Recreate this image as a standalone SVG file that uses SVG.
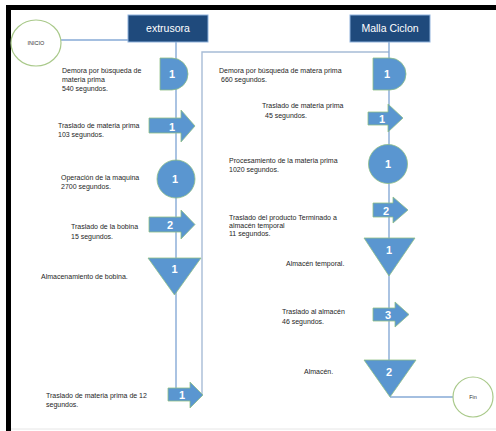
<svg xmlns="http://www.w3.org/2000/svg" width="496" height="431" viewBox="0 0 496 431">
<defs>
<style>
.lbl{font-family:"Liberation Sans",Arial,sans-serif;font-size:7px;fill:#1e1e1e;}
.hdr{font-family:"Liberation Sans",Arial,sans-serif;font-size:10.5px;fill:#ffffff;text-anchor:middle;}
.num{font-family:"Liberation Sans",Arial,sans-serif;font-size:11px;font-weight:bold;fill:#ffffff;text-anchor:middle;}
.tiny{font-family:"Liberation Sans",Arial,sans-serif;font-size:5.5px;fill:#333;text-anchor:middle;}
.shp{fill:#5a96d0;stroke:#8fbf86;stroke-width:0.8;}
.box{fill:#1f4a7c;stroke:#8fb2dc;stroke-width:1;}
.term{fill:#ffffff;stroke:#a9c98a;stroke-width:1.2;}
.con{fill:none;stroke:#86aad6;stroke-width:1.4;}
.con2{fill:none;stroke:#a7bcd6;stroke-width:1.4;}
</style>
</defs>
<rect x="0" y="0" width="496" height="431" fill="#ffffff"/>
<g id="frame">
<rect x="6" y="5" width="490" height="5" fill="#000"/>
<rect x="6" y="5" width="5" height="426" fill="#000"/>
<line x1="11" y1="429" x2="496" y2="429" stroke="#e6e6e6" stroke-width="1"/>
</g>
<g id="connectors">
<line class="con" x1="61" y1="40" x2="128" y2="40"/>
<line class="con" x1="176" y1="42" x2="176" y2="388"/>
<polyline class="con2" points="202,395 202,52 389,52"/>
<line class="con" x1="389" y1="42" x2="389" y2="361"/>
<line class="con" x1="390" y1="397" x2="453" y2="397"/>
</g>
<g id="inicio">
<ellipse class="term" cx="36" cy="43" rx="25" ry="23"/>
<text class="tiny" x="36" y="45">INICIO</text>
</g>
<g id="extrusora">
<rect class="box" x="128" y="15" width="80" height="27"/>
<text class="hdr" x="168" y="32">extrusora</text>
</g>
<g id="malla-ciclon">
<rect class="box" x="350" y="15" width="80" height="27"/>
<text class="hdr" x="390" y="32">Malla Ciclon</text>
</g>
<g id="e-demora">
<path class="shp" d="M160,58 H172 A16,16 0 0 1 172,90 H160 Z"/>
<text class="num" x="172" y="78">1</text>
<text class="lbl" x="62" y="73">Demora por búsqueda de</text>
<text class="lbl" x="62" y="82">materia prima</text>
<text class="lbl" x="62" y="91"> 540 segundos.</text>
</g>
<g id="e-traslado1">
<polygon class="shp" points="149,118 181,118 181,110 195,126 181,142 181,133 149,133"/>
<text class="num" x="172" y="131">1</text>
<text class="lbl" x="58" y="128">Traslado de materia prima</text>
<text class="lbl" x="58" y="137">103 segundos.</text>
</g>
<g id="e-operacion">
<circle class="shp" cx="176" cy="179" r="19"/>
<text class="num" x="175" y="183">1</text>
<text class="lbl" x="61" y="180">Operación de la maquina</text>
<text class="lbl" x="61" y="189">2700 segundos.</text>
</g>
<g id="e-traslado2">
<polygon class="shp" points="149,217 181,217 181,210 195,224.5 181,239 181,232 149,232"/>
<text class="num" x="170" y="229">2</text>
<text class="lbl" x="71" y="229">Traslado de la bobina</text>
<text class="lbl" x="71" y="239">15 segundos.</text>
</g>
<g id="e-almacen">
<polygon class="shp" points="148,258 201,258 174.5,295"/>
<text class="num" x="174.5" y="273">1</text>
<text class="lbl" x="41" y="279">Almacenamiento de bobina.</text>
</g>
<g id="e-traslado3">
<polygon class="shp" points="168,388 190,388 190,382 203,395 190,408 190,401 168,401"/>
<text class="num" x="182" y="399">1</text>
<text class="lbl" x="46" y="398">Traslado de materia prima  de 12</text>
<text class="lbl" x="46" y="407">segundos.</text>
</g>
<g id="m-demora">
<path class="shp" d="M373,58 H390 A16,16 0 0 1 390,90 H373 Z"/>
<text class="num" x="387" y="78">1</text>
<text class="lbl" x="219" y="73">Demora por búsqueda de matera prima</text>
<text class="lbl" x="221" y="82">660 segundos.</text>
</g>
<g id="m-traslado1">
<polygon class="shp" points="368,112 388,112 388,104 403,118 388,132 388,125 368,125"/>
<text class="num" x="382" y="123">1</text>
<text class="lbl" x="262" y="108">Traslado de materia prima</text>
<text class="lbl" x="265" y="118">45 segundos.</text>
</g>
<g id="m-procesamiento">
<circle class="shp" cx="388" cy="164" r="19.5"/>
<text class="num" x="388" y="168">1</text>
<text class="lbl" x="229" y="163">Procesamiento de la materia prima</text>
<text class="lbl" x="229" y="172">1020 segundos.</text>
</g>
<g id="m-traslado2">
<polygon class="shp" points="373,203 393,203 393,197 408,210 393,223 393,217 373,217"/>
<text class="num" x="386" y="215">2</text>
<text class="lbl" x="229" y="220">Traslado del producto Terminado a</text>
<text class="lbl" x="229" y="228">almacén temporal</text>
<text class="lbl" x="229" y="236">11 segundos.</text>
</g>
<g id="m-almacen-temporal">
<polygon class="shp" points="364,238 415,238 389,276"/>
<text class="num" x="389" y="254">1</text>
<text class="lbl" x="286" y="266">Almacén temporal.</text>
</g>
<g id="m-traslado3">
<polygon class="shp" points="373,308 395,308 395,302 409,314.5 395,327 395,321 373,321"/>
<text class="num" x="388" y="319">3</text>
<text class="lbl" x="282" y="314">Traslado al almacén</text>
<text class="lbl" x="282" y="324">46 segundos.</text>
</g>
<g id="m-almacen">
<polygon class="shp" points="364,360 416,360 390,397"/>
<text class="num" x="389" y="376">2</text>
<text class="lbl" x="304" y="374">Almacén.</text>
</g>
<g id="fin">
<circle class="term" cx="473" cy="397" r="20"/>
<text class="tiny" x="473" y="399">Fin</text>
</g>
</svg>
